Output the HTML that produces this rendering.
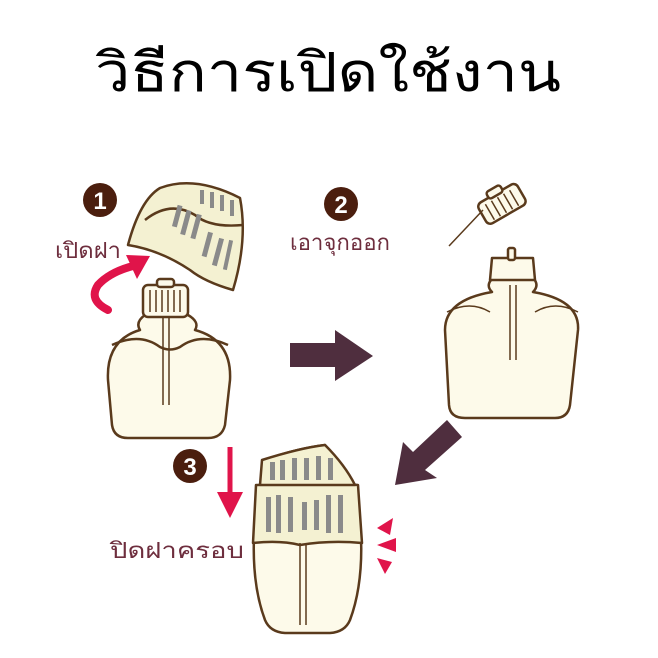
<!DOCTYPE html>
<html><head><meta charset="utf-8"><style>html,body{margin:0;padding:0;background:#fff}svg{display:block}</style></head>
<body>
<svg width="658" height="658" viewBox="0 0 658 658" xmlns="http://www.w3.org/2000/svg">
<text x="328" y="91" text-anchor="middle" font-family="Liberation Sans, sans-serif" font-size="54" fill="#000" textLength="466" lengthAdjust="spacingAndGlyphs">วิธีการเปิดใช้งาน</text>

<g stroke="#5a3a1c" stroke-width="2.5" fill="#fdfaea" stroke-linejoin="round">
<!-- bottle 1 -->
<path d="M145 315 L188 315 Q200 322 195 330 Q232 340 230 380 L225 425 Q222 438 208 438 L128 438 Q114 438 112 425 L108 380 Q106 340 140 330 Q135 322 145 315 Z"/>
<rect x="143" y="285" width="45" height="32" rx="5"/>
<rect x="157" y="279" width="17" height="8" rx="3"/>
<path d="M112 345 Q140 332 160 347 Q170 352 180 347 Q200 332 228 345" fill="none"/>
<path d="M163 318 L163 405 M169 318 L169 405" fill="none" stroke-width="1.5"/>
<path d="M150 290 L150 312 M156 290 L156 312 M162 290 L162 312 M168 290 L168 312 M174 290 L174 312 M180 290 L180 312" stroke-width="1.5"/>
<!-- lid 1 -->
<path d="M128 245 Q140 200 160 188 Q195 175 240 198 Q248 240 233 290 Q205 282 190 270 Q160 250 128 245 Z" fill="#f4f1d2"/>
<path d="M145 220 Q170 200 195 215 Q210 228 243 225" fill="none"/>
</g>
<g fill="#8a8a8a">
<rect x="175" y="205" width="5" height="22" transform="rotate(15 177 215)"/><rect x="184" y="210" width="5" height="25" transform="rotate(15 186 220)"/><rect x="194" y="214" width="5" height="25" transform="rotate(15 196 225)"/><rect x="206" y="232" width="5" height="25" transform="rotate(15 208 240)"/><rect x="216" y="238" width="5" height="28" transform="rotate(15 218 250)"/><rect x="226" y="240" width="4" height="30" transform="rotate(12 228 255)"/>
<rect x="200" y="190" width="4" height="14"/><rect x="210" y="192" width="4" height="16"/><rect x="220" y="195" width="4" height="16"/><rect x="230" y="200" width="4" height="16"/>
</g>
<!-- red arrow 1 -->
<path d="M108 310 Q88 300 98 285 Q110 272 133 266" fill="none" stroke="#e0144a" stroke-width="8" stroke-linecap="round"/>
<path d="M150 256 L126 255 L137 279 Z" fill="#e0144a"/>

<g fill="#4b1e0e"><circle cx="100" cy="200" r="17"/><circle cx="341" cy="204" r="17"/><circle cx="190" cy="466" r="17"/></g>
<g fill="#fff" font-family="Liberation Sans, sans-serif" font-weight="bold" font-size="24" text-anchor="middle">
<text x="100" y="209">1</text><text x="341" y="213">2</text><text x="190" y="475">3</text></g>
<g fill="#6e2e3e" font-family="Liberation Sans, sans-serif" font-size="22">
<text x="55" y="258" textLength="66" lengthAdjust="spacingAndGlyphs">เปิดฝา</text>
<text x="290" y="250" textLength="100" lengthAdjust="spacingAndGlyphs">เอาจุกออก</text>
<text x="110" y="558" textLength="134" lengthAdjust="spacingAndGlyphs">ปิดฝาครอบ</text></g>

<!-- purple arrows -->
<path d="M290 343 L335 343 L335 330 L373 356 L335 381 L335 367 L290 367 Z" fill="#4f2e3e"/>
<path d="M447 420 L462 437 L425 470 L437 478 L395 485 L403 442 L413 452 Z" fill="#4f2e3e"/>

<!-- bottle 2 -->
<g stroke="#5a3a1c" stroke-width="2.5" fill="#fdfaea" stroke-linejoin="round">
<path d="M493 278 L533 278 Q540 285 533 292 Q580 300 578 330 L570 405 Q568 418 555 418 L465 418 Q450 418 449 405 L445 330 Q445 300 492 292 Q485 285 493 278 Z"/>
<path d="M492 258 L533 258 L535 280 L490 280 Z"/>
<rect x="508" y="248" width="7" height="12" rx="2"/>
<path d="M447 312 Q470 300 490 312 M578 312 Q555 300 535 312 M510 285 L510 360 M516 285 L516 360" fill="none" stroke-width="1.5"/>
<g transform="rotate(-30 502 205)"><rect x="480" y="192" width="45" height="24" rx="5"/><rect x="494" y="186" width="16" height="8" rx="3"/>
<path d="M488 196 V214 M495 196 V214 M502 196 V214 M509 196 V214 M516 196 V214" stroke-width="1.5"/></g>
<path d="M449 246 L483 210" stroke-width="1.5" fill="none"/>
</g>

<!-- bottle 3 -->
<g stroke="#5a3a1c" stroke-width="2.5" fill="#fdfaea" stroke-linejoin="round">
<path d="M270 458 Q300 448 325 445 Q350 470 360 520 Q365 580 350 620 Q345 632 330 633 L285 633 Q270 632 265 620 Q250 580 255 520 Q258 480 270 458 Z"/>
<path d="M258 485 Q300 480 358 485 L362 543 Q330 540 300 545 Q280 540 253 543 L256 485 Z" fill="#f4f1d2"/>
<path d="M262 460 Q300 448 325 445 Q345 465 355 485 L260 485 Z" fill="#f4f1d2"/>
<path d="M300 543 L300 625 M306 543 L306 625" stroke-width="1.5" fill="none"/>
</g>
<g fill="#8a8a8a">
<rect x="270" y="462" width="5" height="18"/><rect x="280" y="460" width="5" height="20"/><rect x="292" y="458" width="5" height="22"/><rect x="304" y="458" width="5" height="22"/><rect x="316" y="456" width="5" height="24"/><rect x="328" y="458" width="5" height="22"/>
<rect x="266" y="497" width="5" height="35"/><rect x="276" y="495" width="5" height="38"/><rect x="288" y="497" width="5" height="35"/><rect x="302" y="502" width="5" height="28"/><rect x="314" y="500" width="5" height="30"/><rect x="326" y="495" width="5" height="38"/><rect x="338" y="495" width="5" height="38"/>
</g>
<!-- red down arrow -->
<path d="M230 447 L230 500" stroke="#e0144a" stroke-width="5"/>
<path d="M217 492 L243 492 L230 518 Z" fill="#e0144a"/>
<g fill="#e0144a"><path d="M377 528 L393 518 L390 535 Z"/><path d="M377 545 L396 538 L396 552 Z"/><path d="M377 558 L392 562 L385 574 Z"/></g>
</svg>
</body></html>
